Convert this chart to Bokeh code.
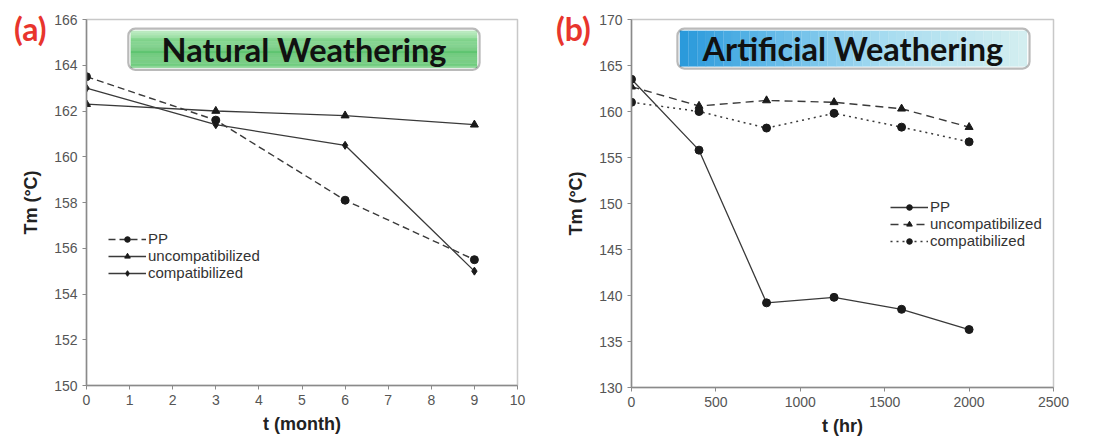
from bokeh.plotting import figure
from bokeh.models import Label, BoxAnnotation, Legend, LegendItem, FixedTicker, Range1d, GridBox, Div
from bokeh.embed import file_html
from bokeh.resources import INLINE

# ---- data: (a) natural weathering ----
t_month = [0, 3, 6, 9]
nat_pp = [163.5, 161.6, 158.1, 155.5]
nat_uncomp = [162.3, 162.0, 161.8, 161.4]
nat_comp = [163.0, 161.4, 160.5, 155.0]
x_ticks_a = [0, 1, 2, 3, 4, 5, 6, 7, 8, 9, 10]
y_ticks_a = [150, 152, 154, 156, 158, 160, 162, 164, 166]

# ---- data: (b) artificial weathering ----
t_hr = [0, 400, 800, 1200, 1600, 2000]
art_pp = [163.5, 155.8, 139.2, 139.8, 138.5, 136.3]
art_uncomp = [162.7, 160.6, 161.2, 161.0, 160.3, 158.3]
art_comp = [161.0, 160.0, 158.2, 159.8, 158.3, 156.7]
x_ticks_b = [0, 500, 1000, 1500, 2000, 2500]
y_ticks_b = [130, 135, 140, 145, 150, 155, 160, 165, 170]

labels = ["PP", "uncompatibilized", "compatibilized"]
panel_tags = ["(a)", "(b)"]

TICK_FONT = "Liberation Sans"
LINE_COL = "#3a3a3a"


def lerp_hex(stops, f):
    for (p0, c0), (p1, c1) in zip(stops[:-1], stops[1:]):
        if p0 <= f <= p1:
            u = (f - p0) / (p1 - p0) if p1 > p0 else 0
            c = [round(a + (b - a) * u) for a, b in zip(c0, c1)]
            return "#%02x%02x%02x" % tuple(c)
    c = stops[-1][1]
    return "#%02x%02x%02x" % tuple(c)


def style(p, xt, yt, xlabel):
    p.xaxis.ticker = FixedTicker(ticks=xt)
    p.yaxis.ticker = FixedTicker(ticks=yt)
    for ax in (p.xaxis[0], p.yaxis[0]):
        ax.major_label_text_font = TICK_FONT
        ax.major_label_text_font_size = "14px"
        ax.major_label_text_color = "#555555"
        ax.axis_line_color = "#8a8a8a"
        ax.axis_line_width = 1.5
        ax.major_tick_line_color = "#8a8a8a"
        ax.major_tick_in = 0
        ax.major_tick_out = 4
        ax.minor_tick_line_color = None
        ax.axis_label_text_font = TICK_FONT
        ax.axis_label_text_font_style = "bold"
        ax.axis_label_text_font_size = "18px"
        ax.axis_label_text_color = "#222222"
    p.xaxis.axis_label = xlabel
    p.yaxis.axis_label = "Tm (°C)"
    p.xaxis.axis_label_standoff = 6
    p.yaxis.axis_label_standoff = 10
    p.xgrid.grid_line_color = None
    p.ygrid.grid_line_color = None
    p.outline_line_color = "#c8c8c8"
    p.outline_line_width = 1.5
    p.background_fill_color = "white"
    p.border_fill_color = "white"


def title_box(p, x0, x1, y0, y1, stops, horizontal, text, tx, ty, n=40):
    dx = (x1 - x0)
    dy = (y1 - y0)
    ix = dx * 0.007
    iy = dy * 0.05
    for i in range(n):
        c = lerp_hex(stops, (i + 0.5) / n)
        if horizontal:
            l = x0 + ix + (dx - 2 * ix) * i / n
            r = x0 + ix + (dx - 2 * ix) * (i + 1) / n
            b, t = y0 + iy, y1 - iy
        else:
            t = y1 - iy - (dy - 2 * iy) * i / n
            b = y1 - iy - (dy - 2 * iy) * (i + 1) / n
            l, r = x0 + ix, x1 - ix
        p.add_layout(BoxAnnotation(left=l, right=r, bottom=b, top=t,
                                   fill_color=c, fill_alpha=1.0, line_color=c, line_width=0.6,
                                   level="underlay"))
    p.add_layout(BoxAnnotation(left=x0, right=x1, bottom=y0, top=y1,
                               fill_alpha=0.0, line_color="#1a1a1a", line_width=2.2,
                               border_radius=7, level="underlay"))
    p.add_layout(Label(x=tx, y=ty, text=text, text_font="Lato", text_font_style="bold",
                       text_font_size="32.5px", text_color="#111111",
                       text_align="center", text_baseline="middle"))


def legend(p, items, lx, ly, spacing):
    lg = Legend(items=items, location=(lx, ly), orientation="vertical",
                label_text_font=TICK_FONT, label_text_font_size="15px",
                label_text_color="#333333", glyph_width=38, glyph_height=14,
                label_standoff=2, spacing=spacing, padding=0, margin=0,
                border_line_color=None, background_fill_alpha=0.0,
                label_height=14)
    p.add_layout(lg)


def tag_div(text, left, top):
    html = ('<div style="position:relative; left:%dpx; top:%dpx; color:#e8352d; '
            'font-family:Lato, sans-serif; font-weight:bold; font-size:32px; '
            'line-height:32px; white-space:nowrap;">%s</div>' % (left, top, text))
    return Div(text=html, width=60, height=50,
               styles={"z-index": "10", "position": "relative"},
               align="start")


# ================= (a) =================
pa = figure(width=556, height=433, frame_width=431, frame_height=366,
            output_backend="svg", toolbar_location=None,
            x_range=Range1d(0, 10), y_range=Range1d(150, 166),
            min_border_left=86, min_border_right=39, min_border_top=19, min_border_bottom=48)
style(pa, x_ticks_a, y_ticks_a, "t (month)")
green_stops = [(0.0, (182, 234, 188)), (0.3, (122, 210, 134)), (0.6, (96, 196, 112)),
               (0.85, (104, 200, 118)), (1.0, (130, 212, 142))]
title_box(pa, 0.97, 9.12, 163.8, 165.6, green_stops, False, "Natural Weathering", 5.05, 164.68)

l1 = pa.line(t_month, nat_pp, line_color=LINE_COL, line_width=1.4, line_dash="7 4")
m1 = pa.scatter(t_month, nat_pp, marker="circle", size=8, color="#1a1a1a")
l2 = pa.line(t_month, nat_uncomp, line_color=LINE_COL, line_width=1.3)
m2 = pa.scatter(t_month, nat_uncomp, marker="triangle", size=8, color="#1a1a1a")
l3 = pa.line(t_month, nat_comp, line_color=LINE_COL, line_width=1.3)
m3 = pa.scatter(t_month, nat_comp, marker="diamond", size=8, color="#1a1a1a")
legend(pa, [LegendItem(label=labels[0], renderers=[l1, m1]),
            LegendItem(label=labels[1], renderers=[l2, m2]),
            LegendItem(label=labels[2], renderers=[l3, m3])], 22, 104, 0)

# ================= (b) =================
pb = figure(width=546, height=433, frame_width=422, frame_height=368,
            output_backend="svg", toolbar_location=None,
            x_range=Range1d(0, 2500), y_range=Range1d(130, 170),
            min_border_left=75, min_border_right=49, min_border_top=19, min_border_bottom=46)
style(pb, x_ticks_b, y_ticks_b, "t (hr)")
blue_stops = [(0.0, (40, 152, 218)), (0.25, (96, 184, 232)), (0.6, (168, 220, 240)),
              (1.0, (212, 239, 240))]
title_box(pb, 272, 2358, 164.67, 169.0, blue_stops, True, "Artificial Weathering", 1312, 166.85)

k1 = pb.line(t_hr, art_pp, line_color=LINE_COL, line_width=1.3)
n1 = pb.scatter(t_hr, art_pp, marker="circle", size=8, color="#1a1a1a")
k2 = pb.line(t_hr, art_uncomp, line_color=LINE_COL, line_width=1.4, line_dash="8 5")
n2 = pb.scatter(t_hr, art_uncomp, marker="triangle", size=8, color="#1a1a1a")
k3 = pb.line(t_hr, art_comp, line_color=LINE_COL, line_width=1.5, line_dash="2 4")
n3 = pb.scatter(t_hr, art_comp, marker="circle", size=8, color="#1a1a1a")
legend(pb, [LegendItem(label=labels[0], renderers=[k1, n1]),
            LegendItem(label=labels[1], renderers=[k2, n2]),
            LegendItem(label=labels[2], renderers=[k3, n3])], 259, 138, -3)

tag_a = tag_div(panel_tags[0], 9, 8)
tag_b = tag_div(panel_tags[1], -5, 8)

layout = GridBox(children=[(pa, 0, 0), (pb, 0, 1), (tag_a, 0, 0), (tag_b, 0, 1)], spacing=0)
open("out.html", "w").write(file_html(layout, INLINE))
